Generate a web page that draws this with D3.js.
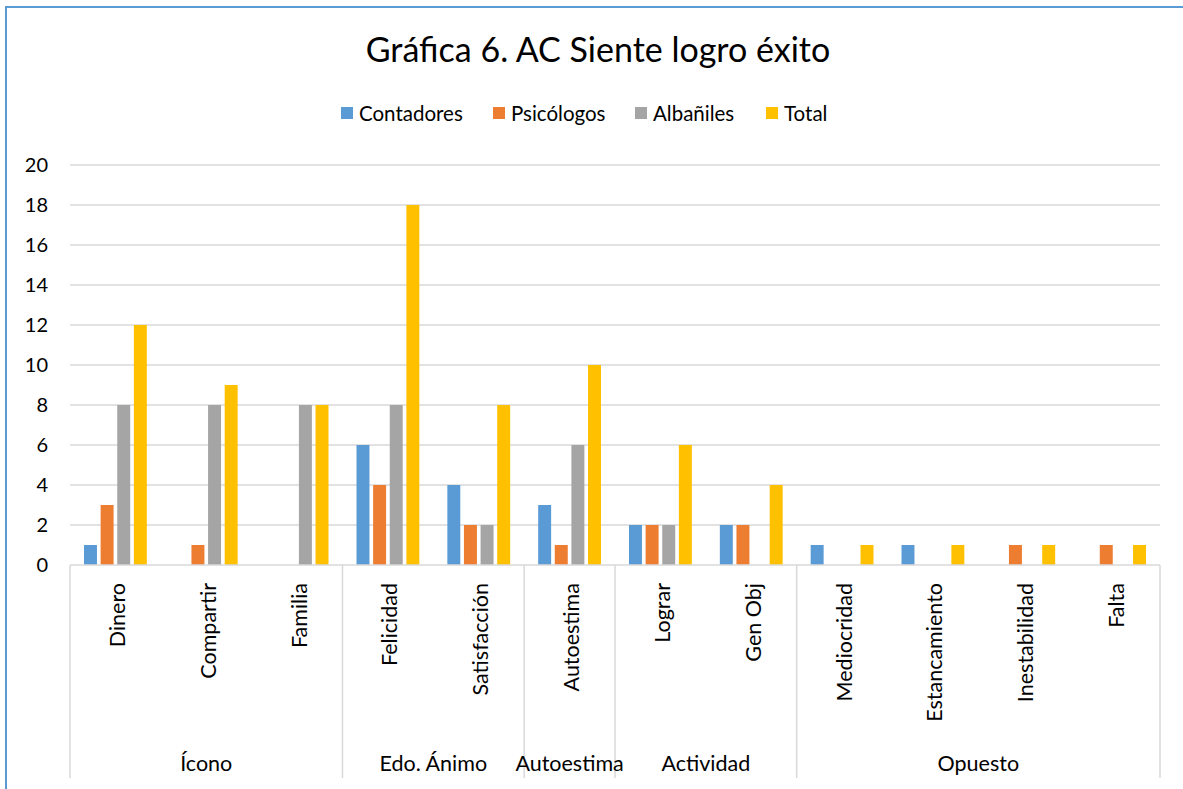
<!DOCTYPE html>
<html>
<head>
<meta charset="utf-8">
<script src="https://cdn.jsdelivr.net/npm/d3@7"></script>
<style>
  body { margin: 0; background: #fff; }
  text { font-family: Lato, "Open Sans", sans-serif; fill: #000; }
</style>
</head>
<body>
<div id="chart"></div>
<script>
// data
const categories = ["Dinero", "Compartir", "Familia", "Felicidad", "Satisfacción", "Autoestima",
  "Lograr", "Gen Obj", "Mediocridad", "Estancamiento", "Inestabilidad", "Falta"];
const groups = [
  { name: "Ícono", count: 3 },
  { name: "Edo. Ánimo", count: 2 },
  { name: "Autoestima", count: 1 },
  { name: "Actividad", count: 2 },
  { name: "Opuesto", count: 4 }
];
const seriesNames = ["Contadores", "Psicólogos", "Albañiles", "Total"];
const contadores = [1, 0, 0, 6, 4, 3, 2, 2, 1, 1, 0, 0];
const psicologos = [3, 1, 0, 4, 2, 1, 2, 2, 0, 0, 1, 1];
const albaniles  = [8, 8, 8, 8, 2, 6, 2, 0, 0, 0, 0, 0];
const total      = [12, 9, 8, 18, 8, 10, 6, 4, 1, 1, 1, 1];
const yTicks = [0, 2, 4, 6, 8, 10, 12, 14, 16, 18, 20];
const colors = ["#5B9BD5", "#ED7D31", "#A5A5A5", "#FFC000"];

const values = [contadores, psicologos, albaniles, total];
const table = categories.map((c, i) => ({ cat: c, vals: values.map(v => v[i]) }));

const W = 1183, H = 789;
const plot = { left: 70, right: 1160, top: 165, bottom: 565 };

const svg = d3.select("#chart").append("svg")
    .attr("width", W)
    .attr("height", H);

// chart frame (cut off at right and bottom like the original)
svg.append("rect")
    .attr("x", 6).attr("y", 7)
    .attr("width", W + 20).attr("height", H + 20)
    .attr("fill", "none")
    .attr("stroke", "#5B9BD5")
    .attr("stroke-width", 2);

// title
svg.append("text")
    .attr("x", 598).attr("y", 62)
    .attr("text-anchor", "middle")
    .style("font-size", "34px")
    .text("Gráfica 6. AC Siente logro éxito");

// scales
const x0 = d3.scaleBand()
    .domain(categories)
    .range([plot.left, plot.right]);

const x1 = d3.scaleBand()
    .domain(seriesNames)
    .range([14, x0.bandwidth() - 14])
    .paddingInner(0.22);

const y = d3.scaleLinear()
    .domain([0, 20])
    .range([plot.bottom, plot.top]);

const color = d3.scaleOrdinal().domain(seriesNames).range(colors);

// gridlines
svg.append("g")
    .selectAll("line")
    .data(yTicks.filter(d => d > 0))
    .enter().append("line")
    .attr("x1", plot.left).attr("x2", plot.right)
    .attr("y1", d => y(d)).attr("y2", d => y(d))
    .attr("stroke", "#d9d9d9")
    .attr("stroke-width", 1.5);

// y axis labels
const yAxis = svg.append("g")
    .attr("transform", `translate(${plot.left},0)`)
    .call(d3.axisLeft(y).tickValues(yTicks).tickSize(0).tickPadding(22));
yAxis.select(".domain").remove();
yAxis.selectAll("text")
    .style("font-size", "20px")
    .attr("fill", "#000");

// bars
const catG = svg.append("g")
    .selectAll("g")
    .data(table)
    .enter().append("g")
    .attr("transform", d => `translate(${x0(d.cat)},0)`);

catG.selectAll("rect")
    .data(d => d.vals.map((v, i) => ({ name: seriesNames[i], v })))
    .enter().append("rect")
    .filter(d => d.v > 0)
    .attr("x", d => x1(d.name))
    .attr("width", x1.bandwidth())
    .attr("y", d => y(d.v))
    .attr("height", d => y(0) - y(d.v))
    .attr("fill", d => color(d.name));

// category axis line
svg.append("line")
    .attr("x1", plot.left).attr("x2", plot.right)
    .attr("y1", plot.bottom).attr("y2", plot.bottom)
    .attr("stroke", "#d9d9d9")
    .attr("stroke-width", 1.5);

// category labels (rotated)
svg.append("g")
    .selectAll("text")
    .data(categories)
    .enter().append("text")
    .attr("transform", d => `translate(${x0(d) + x0.bandwidth() / 2 + 2},583) rotate(-90)`)
    .attr("text-anchor", "end")
    .attr("dy", "0.35em")
    .style("font-size", "21.5px")
    .text(d => d);

// group separators and labels
let start = 0;
const groupPos = groups.map(g => {
  const p = { name: g.name, x0: x0(categories[start]), x1: x0(categories[start + g.count - 1]) + x0.bandwidth() };
  start += g.count;
  return p;
});
const sepX = [plot.left].concat(groupPos.map(g => g.x1));

svg.append("g")
    .selectAll("line")
    .data(sepX)
    .enter().append("line")
    .attr("x1", d => d).attr("x2", d => d)
    .attr("y1", plot.bottom).attr("y2", 778)
    .attr("stroke", "#d9d9d9")
    .attr("stroke-width", 1.5);

svg.append("g")
    .selectAll("text")
    .data(groupPos)
    .enter().append("text")
    .attr("x", d => (d.x0 + d.x1) / 2)
    .attr("y", 771)
    .attr("text-anchor", "middle")
    .style("font-size", "21.5px")
    .text(d => d.name);

// legend
const legendX = [341, 493, 635, 766];
const legend = svg.append("g")
    .selectAll("g")
    .data(seriesNames)
    .enter().append("g")
    .attr("transform", (d, i) => `translate(${legendX[i]},107)`);

legend.append("rect")
    .attr("width", 12).attr("height", 12)
    .attr("fill", d => color(d));

legend.append("text")
    .attr("x", 18).attr("y", 14)
    .style("font-size", "20.5px")
    .text(d => d);
</script>
</body>
</html>
